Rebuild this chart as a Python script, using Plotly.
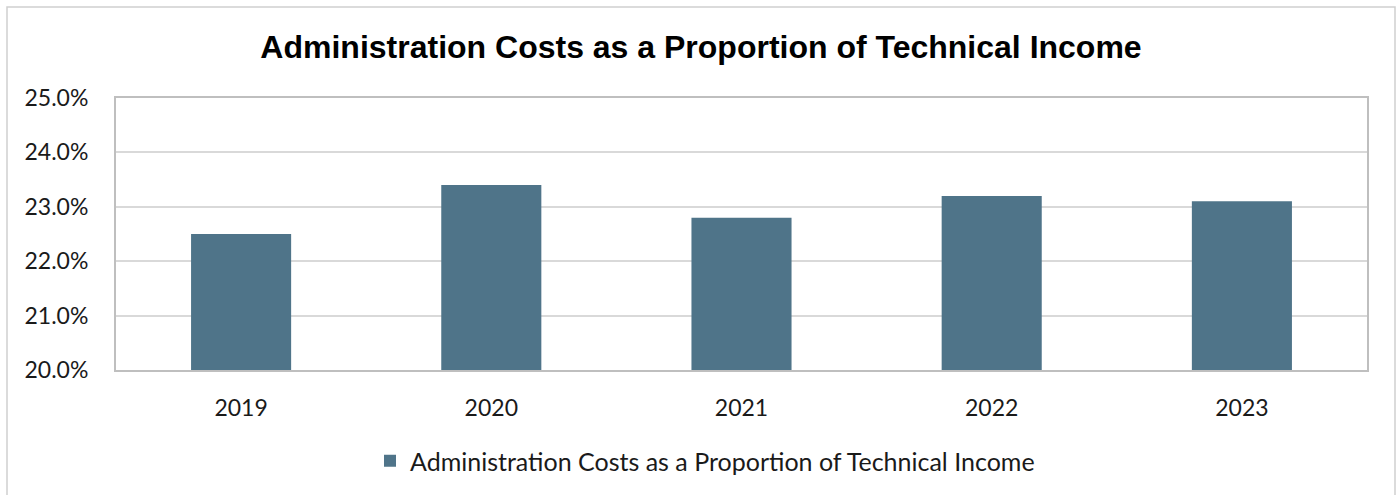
import plotly.graph_objects as go

years = ["2019", "2020", "2021", "2022", "2023"]
values = [22.5, 23.4, 22.8, 23.2, 23.1]
series_name = "Administration Costs as a Proportion of Technical Income"
title_text = "Administration Costs as a Proportion of Technical Income"

W, H = 1399, 495
L, R, T, B = 116, 1367, 98, 370

fig = go.Figure()
fig.add_trace(go.Bar(
    x=years, y=[v / 100 for v in values], name=series_name,
    marker=dict(color="#4F7489", line=dict(width=0)),
    showlegend=True,
))

def px_x(px):
    return (px - L) / (R - L)

def px_y(py):
    return (B - py) / (B - T)

fig.add_shape(type="rect", xref="paper", yref="paper",
              x0=px_x(7), x1=px_x(1395), y0=px_y(500), y1=px_y(7),
              line=dict(color="#D0D0D0", width=1.5), layer="below")

tick_font = dict(family="Lato", size=23, color="#1a1a1a")

fig.update_layout(
    width=W, height=H,
    margin=dict(l=L, r=W - R, t=T, b=H - B, autoexpand=False),
    paper_bgcolor="white", plot_bgcolor="white",
    title=dict(text=title_text, x=701 / W, xref="container", xanchor="center",
               y=1 - 47 / H, yanchor="middle",
               font=dict(family="Liberation Sans", size=32, color="black", weight="bold")),
    bargap=0.6,
    showlegend=True,
    legend=dict(orientation="h", x=px_x(705), xanchor="center", xref="paper",
                y=px_y(461), yanchor="middle", yref="paper",
                font=dict(family="Lato", size=25, color="#1a1a1a")),
    xaxis=dict(showline=True, linecolor="#BFBFBF", linewidth=2, mirror=True,
               tickfont=tick_font, tickangle=0,
               ticks="", ticklabelstandoff=16, showgrid=False),
    yaxis=dict(range=[0.20, 0.25], dtick=0.01, tickformat=".1%",
               showline=True, linecolor="#BFBFBF", linewidth=2, mirror=True,
               gridcolor="#D9D9D9", gridwidth=1.5,
               tickfont=tick_font,
               ticks="", ticklabelstandoff=21, zeroline=False),
)

fig.write_html("out.html")
